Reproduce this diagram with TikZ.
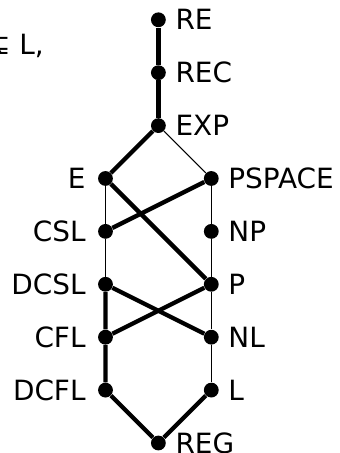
\documentclass[tikz,border=0pt]{standalone}
\usepackage{fontspec}
\setmainfont{DejaVu Sans}
\usepackage{tikz}

\begin{document}
\begin{tikzpicture}[x=1cm,y=1cm,
  dot/.style={circle,fill=black,inner sep=0pt,minimum size=0.28cm},
  lbl/.style={label distance=1.5pt,font=\fontsize{15}{18}\selectfont},
  lbll/.style={label distance=3pt,font=\fontsize{15}{18}\selectfont},
  thk/.style={line width=2.3pt},
  thn/.style={line width=0.6pt}]
\clip (-1.994,-0.189) rectangle (4.433,8.374);
% cut-off text from the left
\node[anchor=base east,inner sep=0pt,font=\fontsize{15}{18}\selectfont] (frag) at (-1.16,7.335) {⊊ L,};
% middle column
\node[dot,label={[lbl]right:RE}] (re) at (1,8) {};
\node[dot,label={[lbl]right:REC}] (rec) at (1,7) {};
\node[dot,label={[lbl]right:EXP}] (exp) at (1,6) {};
% left column
\node[dot,label={[lbll]left:E}] (e) at (0,5) {};
\node[dot,label={[lbll]left:CSL}] (csl) at (0,4) {};
\node[dot,label={[lbll]left:DCSL}] (dcsl) at (0,3) {};
\node[dot,label={[lbll]left:CFL}] (cfl) at (0,2) {};
\node[dot,label={[lbll]left:DCFL}] (dcfl) at (0,1) {};
% right column
\node[dot,label={[lbl]right:PSPACE}] (pspace) at (2,5) {};
\node[dot,label={[lbl]right:NP}] (np) at (2,4) {};
\node[dot,label={[lbl]right:P}] (p) at (2,3) {};
\node[dot,label={[lbl]right:NL}] (nl) at (2,2) {};
\node[dot,label={[lbl]right:L}] (l) at (2,1) {};
% bottom
\node[dot,label={[lbl]right:REG}] (reg) at (1,0) {};
% strict inclusions
\draw[thk] (re) -- (rec) -- (exp);
\draw[thk] (exp) -- (e);
\draw[thk] (e) -- (p);
\draw[thk] (pspace) -- (csl);
\draw[thk] (dcsl) -- (nl);
\draw[thk] (p) -- (cfl);
\draw[thk] (dcsl) -- (cfl) -- (dcfl) -- (reg) -- (l);
% inclusions
\draw[thn] (exp) -- (pspace);
\draw[thn] (e) -- (csl) -- (dcsl);
\draw[thn] (pspace) -- (np) -- (p) -- (nl) -- (l);
\end{tikzpicture}
\end{document}
